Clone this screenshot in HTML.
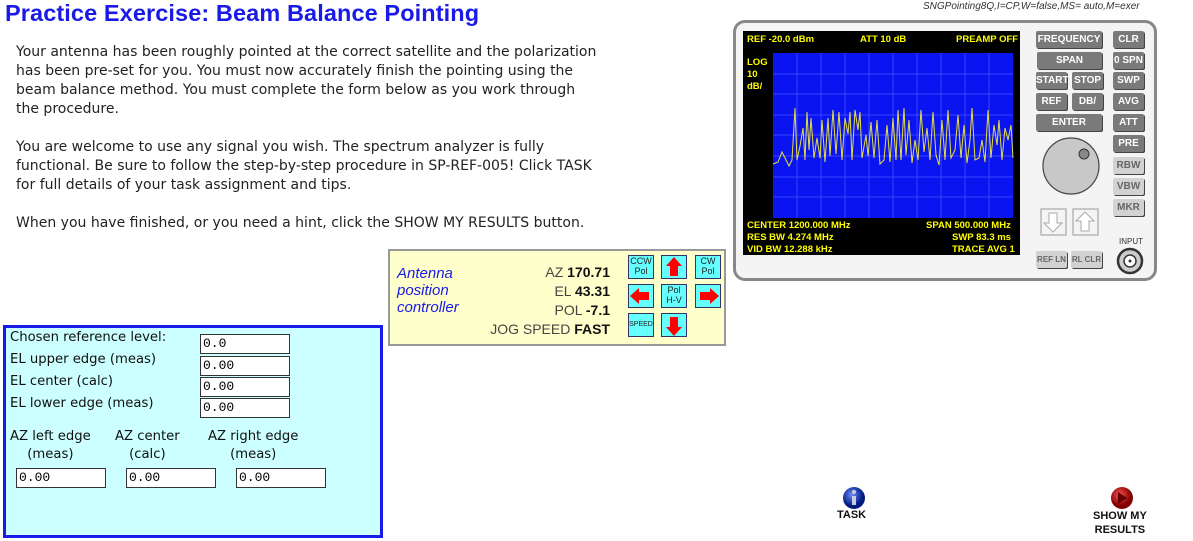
<!DOCTYPE html>
<html><head><meta charset="utf-8"><style>
body{margin:0;width:1193px;height:541px;background:#fff;position:relative;overflow:hidden;font-family:"Liberation Sans","DejaVu Sans",sans-serif}
.a{position:absolute}
.t{font-family:"DejaVu Sans",sans-serif;font-size:14px;color:#222;line-height:19px;white-space:nowrap}
.btn{position:absolute;background:#7a7a7a;color:#fff;font-size:10px;font-weight:bold;text-align:center;line-height:17px;height:17px;border-radius:2px;box-shadow:1px 1px 0 #444}
.lb{background:#d2d2d2;color:#666}
.sc{position:absolute;color:#ff0;font-size:9.5px;font-weight:bold}
.in{position:absolute;background:#fff;border:1px solid #333;height:18px;font-family:"Liberation Mono",monospace;font-size:13px;line-height:18px;padding-left:2px;box-sizing:border-box}
.fl{position:absolute;font-family:"DejaVu Sans",sans-serif;font-size:13.2px;color:#111;white-space:nowrap}
.cb{position:absolute;background:#66ffff;border:1px solid #336;width:26px;height:24px;text-align:center;font-size:9px;line-height:10px;color:#222;box-sizing:border-box}
</style></head><body>
<div class="a" style="left:5px;top:0;font-size:23.5px;font-weight:bold;color:#1a1ae6;letter-spacing:0.1px">Practice Exercise: Beam Balance Pointing</div>
<div class="a" style="left:923px;top:1px;font-size:10px;font-style:italic;color:#333">SNGPointing8Q,I=CP,W=false,MS= auto,M=exer</div>
<div class="a t" style="left:16px;top:43px">Your antenna has been roughly pointed at the correct satellite and the polarization<br>has been pre-set for you. You must now accurately finish the pointing using the<br>beam balance method. You must complete the form below as you work through<br>the procedure.<br><br>You are welcome to use any signal you wish. The spectrum analyzer is fully<br>functional. Be sure to follow the step-by-step procedure in SP-REF-005! Click TASK<br>for full details of your task assignment and tips.<br><br>When you have finished, or you need a hint, click the SHOW MY RESULTS button.</div>

<!-- analyzer -->
<div class="a" style="left:733px;top:20px;width:418px;height:255px;border:3px solid #888;border-radius:12px;background:#f4f4f4"></div>
<div class="a" style="left:743px;top:31px;width:277px;height:224px;background:#000"></div>
<div class="a" style="left:773px;top:53px;width:240px;height:165px;background:#0a14f0"></div>
<svg class="a" style="left:0;top:0" width="1193" height="541">
<g stroke="#3a44ff" stroke-width="1">
<line x1="773" y1="74" x2="1013" y2="74"/><line x1="773" y1="94" x2="1013" y2="94"/><line x1="773" y1="115" x2="1013" y2="115"/><line x1="773" y1="135" x2="1013" y2="135"/><line x1="773" y1="156" x2="1013" y2="156"/><line x1="773" y1="177" x2="1013" y2="177"/><line x1="773" y1="197" x2="1013" y2="197"/>
<line x1="797" y1="53" x2="797" y2="218"/><line x1="821" y1="53" x2="821" y2="218"/><line x1="845" y1="53" x2="845" y2="218"/><line x1="869" y1="53" x2="869" y2="218"/><line x1="893" y1="53" x2="893" y2="218"/><line x1="917" y1="53" x2="917" y2="218"/><line x1="941" y1="53" x2="941" y2="218"/><line x1="965" y1="53" x2="965" y2="218"/><line x1="989" y1="53" x2="989" y2="218"/>
</g>
<polyline fill="none" stroke="#e6e040" stroke-width="1" points="773,164 778,162 782,152 785,158 789,166 792,160 795,108 797,160 800,146 803,128 805,160 807,112 809,150 811,118 814,158 817,138 820,158 822,120 825,162 828,118 830,156 833,110 836,154 839,112 842,160 845,118 848,134 850,112 852,160 855,110 858,130 860,112 862,158 866,135 868,156 871,122 874,158 877,120 880,164 884,160 887,125 890,162 893,118 896,160 898,110 901,160 904,108 906,155 909,120 912,163 915,140 918,160 921,110 924,152 927,128 930,160 933,112 936,155 939,165 942,120 945,160 948,110 951,158 955,150 958,115 961,158 964,125 967,163 970,140 972,108 975,160 979,158 982,140 985,162 988,110 991,158 994,125 997,145 999,120 1002,160 1005,128 1008,140 1011,125 1013,158"/>
<circle cx="1071" cy="166" r="28" fill="#c8c8c8" stroke="#444" stroke-width="1.2"/>
<circle cx="1084" cy="154" r="5" fill="#888" stroke="#333"/>
<rect x="1041" y="209" width="25" height="26" fill="#f4f4f4" stroke="#999"/>
<rect x="1073" y="209" width="25" height="26" fill="#f4f4f4" stroke="#999"/>
<path d="M1049,213 h8 v10 h5 l-9,9 l-9,-9 h5z" fill="#fff" stroke="#aaa"/>
<path d="M1081,231 h8 v-10 h5 l-9,-9 l-9,9 h5z" fill="#fff" stroke="#aaa"/>
<circle cx="1130" cy="261" r="12" fill="#ccc" stroke="#333" stroke-width="2.5"/>
<circle cx="1130" cy="261" r="6" fill="#fff" stroke="#333" stroke-width="1.5"/>
<circle cx="1130" cy="261" r="1.5" fill="#333"/>
<path d="M356,346 l9,20 h-5 v32 h5 l-9,20 l-9,-20 h5 v-32 h-5z" fill="#0000ee"/>
<path d="M116,507 l20,-9 v5 h42 v-5 l20,9 l-20,9 v-5 h-42 v5z" fill="#0000ee"/>
<defs><radialGradient id="gb" cx="40%" cy="35%"><stop offset="0" stop-color="#6a8cff"/><stop offset="1" stop-color="#001a80"/></radialGradient><radialGradient id="gr" cx="40%" cy="35%"><stop offset="0" stop-color="#ff5050"/><stop offset="1" stop-color="#800000"/></radialGradient></defs>
<circle cx="854" cy="498" r="11" fill="url(#gb)"/><rect x="852" y="496" width="4" height="9" fill="#ccd"/><circle cx="854" cy="492" r="2" fill="#ccd"/>
<circle cx="1122" cy="498" r="11" fill="url(#gr)"/><path d="M1118,492 l9,6 l-9,6z" fill="#600"/>
</svg>
<div class="sc" style="left:747px;top:34px">REF -20.0 dBm</div>
<div class="sc" style="left:860px;top:34px">ATT 10 dB</div>
<div class="sc" style="left:956px;top:34px">PREAMP OFF</div>
<div class="sc" style="left:747px;top:57px;line-height:12px">LOG<br>10<br>dB/</div>
<div class="sc" style="left:747px;top:220px">CENTER 1200.000 MHz</div>
<div class="sc" style="left:747px;top:232px">RES BW 4.274 MHz</div>
<div class="sc" style="left:747px;top:244px">VID BW 12.288 kHz</div>
<div class="sc" style="left:926px;top:220px">SPAN 500.000 MHz</div>
<div class="sc" style="left:952px;top:232px">SWP 83.3 ms</div>
<div class="sc" style="left:952px;top:244px">TRACE AVG 1</div>
<div class="btn" style="left:1036px;top:31px;width:66px">FREQUENCY</div>
<div class="btn" style="left:1037px;top:52px;width:65px">SPAN</div>
<div class="btn" style="left:1036px;top:72px;width:31px">START</div>
<div class="btn" style="left:1072px;top:72px;width:31px">STOP</div>
<div class="btn" style="left:1036px;top:93px;width:31px">REF</div>
<div class="btn" style="left:1072px;top:93px;width:31px">DB/</div>
<div class="btn" style="left:1036px;top:114px;width:66px">ENTER</div>
<div class="btn" style="left:1113px;top:31px;width:31px">CLR</div>
<div class="btn" style="left:1113px;top:52px;width:31px">0 SPN</div>
<div class="btn" style="left:1113px;top:72px;width:31px">SWP</div>
<div class="btn" style="left:1113px;top:93px;width:31px">AVG</div>
<div class="btn" style="left:1113px;top:114px;width:31px">ATT</div>
<div class="btn" style="left:1113px;top:135px;width:31px">PRE</div>
<div class="btn lb" style="left:1113px;top:157px;width:31px">RBW</div>
<div class="btn lb" style="left:1113px;top:178px;width:31px">VBW</div>
<div class="btn lb" style="left:1113px;top:199px;width:31px">MKR</div>
<div class="btn lb" style="left:1036px;top:251px;width:31px;font-size:8px">REF LN</div>
<div class="btn lb" style="left:1071px;top:251px;width:31px;font-size:8px">RL CLR</div>
<div class="a" style="left:1119px;top:237px;font-size:8px;color:#333">INPUT</div>

<!-- controller -->
<div class="a" style="left:388px;top:249px;width:334px;height:93px;background:#ffffcc;border:2px solid #999"></div>
<div class="a" style="left:397px;top:265px;font-size:15px;font-style:italic;color:#1a1ae6;line-height:17px">Antenna<br>position<br>controller</div>
<div class="a" style="left:470px;top:263px;width:140px;text-align:right;font-size:14px;color:#444;line-height:19px">AZ <b style="color:#111">170.71</b><br>EL <b style="color:#111">43.31</b><br>POL <b style="color:#111">-7.1</b><br>JOG SPEED <b style="color:#111">FAST</b></div>
<div class="cb" style="left:628px;top:255px">CCW<br>Pol</div>
<div class="cb" style="left:695px;top:255px">CW<br>Pol</div>
<div class="cb" style="left:661px;top:284px">Pol<br>H-V</div>
<div class="cb" style="left:628px;top:313px;font-size:7px;line-height:22px">SPEED</div>
<div class="cb" style="left:661px;top:255px"></div>
<div class="cb" style="left:628px;top:284px"></div>
<div class="cb" style="left:695px;top:284px"></div>
<div class="cb" style="left:661px;top:313px"></div>
<svg class="a" style="left:0;top:0" width="1193" height="541">
<path d="M674,257 l8,9 h-4 v10 h-8 v-10 h-4z" fill="#f00"/>
<path d="M674,336 l8,-9 h-4 v-10 h-8 v10 h-4z" fill="#f00"/>
<path d="M630,296 l9,-8 v4 h10 v8 h-10 v4z" fill="#f00"/>
<path d="M719,296 l-9,-8 v4 h-10 v8 h10 v4z" fill="#f00"/>
</svg>

<!-- form -->
<div class="a" style="left:3px;top:325px;width:374px;height:207px;background:#ccffff;border:3px solid #1a1ae6"></div>
<div class="fl" style="left:10px;top:330px">Chosen reference level:</div>
<div class="fl" style="left:10px;top:352px">EL upper edge (meas)</div>
<div class="fl" style="left:10px;top:374px">EL center (calc)</div>
<div class="fl" style="left:10px;top:396px">EL lower edge (meas)</div>
<div class="in" style="left:200px;top:334px;width:90px;height:20px">0.0</div>
<div class="in" style="left:200px;top:356px;width:90px;height:20px">0.00</div>
<div class="in" style="left:200px;top:377px;width:90px;height:20px">0.00</div>
<div class="in" style="left:200px;top:398px;width:90px;height:20px">0.00</div>
<div class="fl" style="left:10px;top:428px;text-align:center;line-height:18px">AZ left edge<br>(meas)</div>
<div class="fl" style="left:115px;top:428px;text-align:center;line-height:18px">AZ center<br>(calc)</div>
<div class="fl" style="left:208px;top:428px;text-align:center;line-height:18px">AZ right edge<br>(meas)</div>
<div class="in" style="left:16px;top:468px;width:90px;height:20px">0.00</div>
<div class="in" style="left:126px;top:468px;width:90px;height:20px">0.00</div>
<div class="in" style="left:236px;top:468px;width:90px;height:20px">0.00</div>

<div class="a" style="left:837px;top:509px;font-size:11px;font-weight:bold;color:#111">TASK</div>
<div class="a" style="left:1093px;top:509px;font-size:11px;font-weight:bold;color:#111;text-align:center;line-height:14px">SHOW MY<br>RESULTS</div>
</body></html>
